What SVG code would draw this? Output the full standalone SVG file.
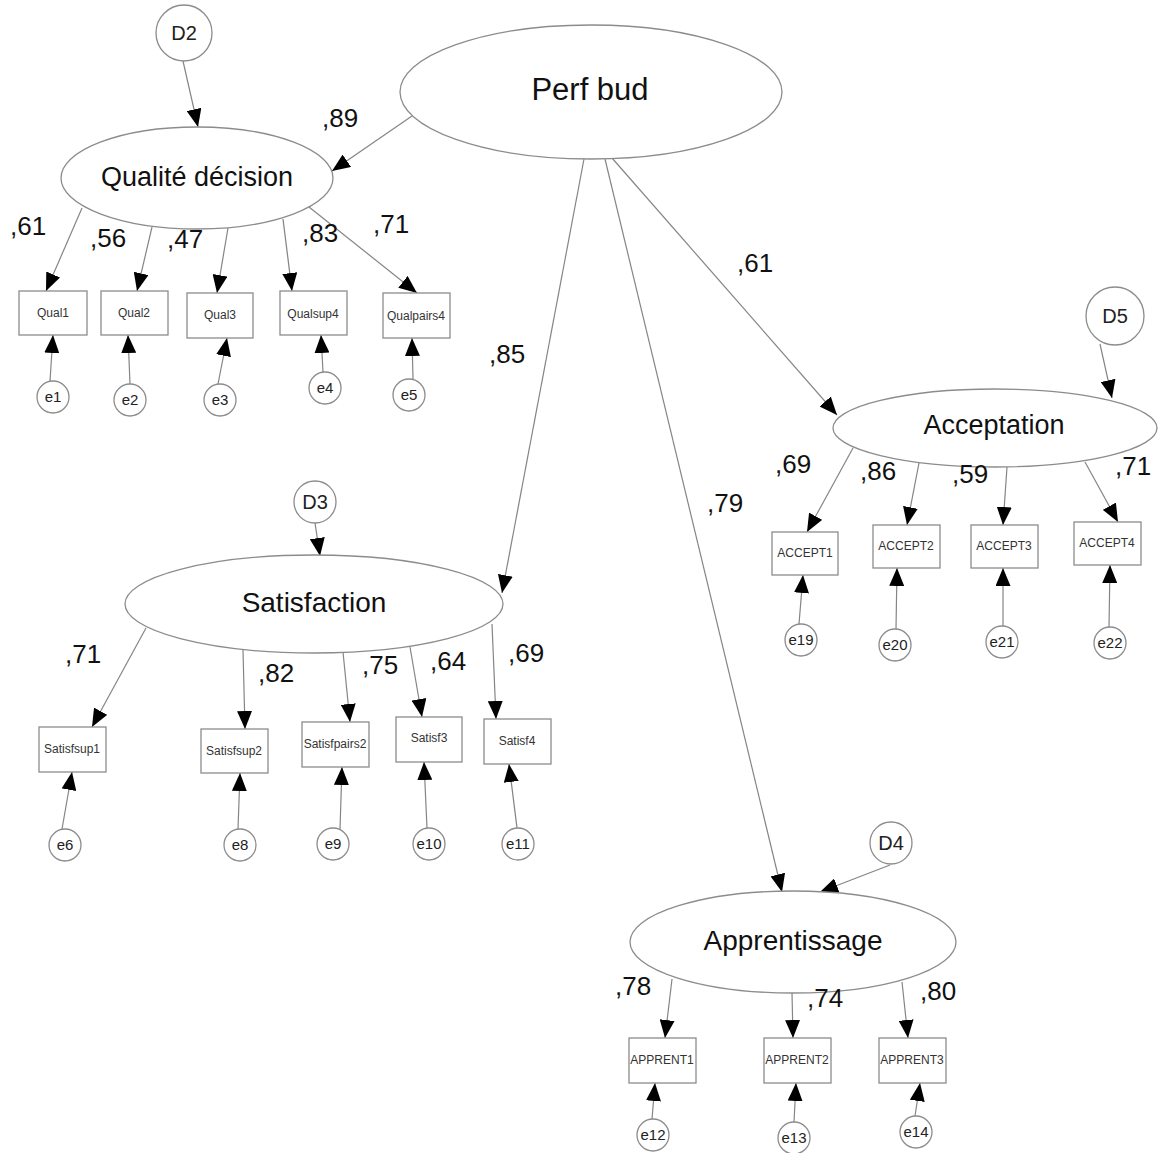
<svg xmlns="http://www.w3.org/2000/svg" width="1162" height="1153" viewBox="0 0 1162 1153">
<style>
text{font-family:"Liberation Sans",Arial,sans-serif;fill:#111}
.lat{fill:#fff;stroke:#8c8c8c;stroke-width:1.3}
.obs{fill:#fff;stroke:#8c8c8c;stroke-width:1.3}
.err{fill:#fff;stroke:#8c8c8c;stroke-width:1.3}
.big{text-anchor:middle}
.box{font-size:12px;text-anchor:middle;fill:#333}
.et{font-size:15px;text-anchor:middle;fill:#222}
.dt{font-size:20px;text-anchor:middle;fill:#222}
.w{font-size:26px}
#conn line{stroke:#858585;stroke-width:1.2;marker-end:url(#ah)}
</style>
<defs>
<marker id="ah" markerUnits="userSpaceOnUse" markerWidth="18" markerHeight="15" refX="18" refY="7.5" orient="auto" viewBox="0 0 18 15">
<path d="M0,0 L18,7.5 L0,15 z" fill="#000"/>
</marker>
</defs>
<rect width="1162" height="1153" fill="#fff"/>

<g id="conn">
<line x1="412" y1="116" x2="332" y2="171"/>
<line x1="183" y1="61" x2="198" y2="127"/>
<line x1="82" y1="208" x2="46" y2="291"/>
<line x1="152" y1="227" x2="137" y2="291"/>
<line x1="228" y1="228" x2="217" y2="293"/>
<line x1="283" y1="219" x2="292" y2="291"/>
<line x1="309" y1="207" x2="417" y2="293"/>
<line x1="50" y1="381" x2="53" y2="335"/>
<line x1="130" y1="384" x2="128" y2="335"/>
<line x1="218" y1="384" x2="227" y2="338"/>
<line x1="323" y1="372" x2="321" y2="335"/>
<line x1="413" y1="379" x2="412" y2="338"/>
<line x1="584" y1="159" x2="502" y2="593"/>
<line x1="605" y1="159" x2="782" y2="892"/>
<line x1="612" y1="158" x2="837" y2="415"/>
<line x1="1100" y1="344" x2="1112" y2="398"/>
<line x1="853" y1="448" x2="807" y2="532"/>
<line x1="919" y1="463" x2="907" y2="525"/>
<line x1="1007" y1="467" x2="1003" y2="525"/>
<line x1="1085" y1="462" x2="1118" y2="522"/>
<line x1="799" y1="624" x2="803" y2="575"/>
<line x1="896" y1="629" x2="897" y2="568"/>
<line x1="1003" y1="626" x2="1003" y2="568"/>
<line x1="1109" y1="627" x2="1110" y2="565"/>
<line x1="315" y1="523" x2="320" y2="556"/>
<line x1="146" y1="628" x2="92" y2="727"/>
<line x1="243" y1="650" x2="245" y2="729"/>
<line x1="343" y1="652" x2="350" y2="722"/>
<line x1="410" y1="647" x2="422" y2="717"/>
<line x1="492" y1="624" x2="496" y2="719"/>
<line x1="62" y1="829" x2="72" y2="772"/>
<line x1="238" y1="829" x2="240" y2="773"/>
<line x1="340" y1="829" x2="342" y2="767"/>
<line x1="427" y1="828" x2="424" y2="762"/>
<line x1="517" y1="828" x2="509" y2="764"/>
<line x1="890" y1="865" x2="820" y2="892"/>
<line x1="672" y1="979" x2="665" y2="1038"/>
<line x1="792" y1="993" x2="793" y2="1038"/>
<line x1="902" y1="982" x2="908" y2="1038"/>
<line x1="652" y1="1119" x2="655" y2="1083"/>
<line x1="794" y1="1122" x2="796" y2="1083"/>
<line x1="915" y1="1116" x2="920" y2="1083"/>
</g>

<g id="perfbud"><ellipse class="lat" cx="591" cy="92" rx="191" ry="67"/><text class="big" x="590" y="100" font-size="31">Perf bud</text></g>

<g id="qualite"><ellipse class="lat" cx="197" cy="178" rx="136" ry="51"/><text class="big" x="197" y="186" font-size="27">Qualité décision</text></g>
<g id="D2"><circle class="err" cx="184" cy="33" r="28"/><text class="dt" x="184" y="40">D2</text></g>
<g id="Qual1"><rect class="obs" x="19" y="291" width="68" height="44"/><text class="box" x="53" y="317">Qual1</text></g>
<g id="Qual2"><rect class="obs" x="101" y="291" width="67" height="44"/><text class="box" x="134" y="317">Qual2</text></g>
<g id="Qual3"><rect class="obs" x="187" y="293" width="66" height="45"/><text class="box" x="220" y="319">Qual3</text></g>
<g id="Qualsup4"><rect class="obs" x="280" y="291" width="67" height="44"/><text class="box" x="313" y="318" font-size="15.5" fill="#111">Qualsup4</text></g>
<g id="Qualpairs4"><rect class="obs" x="383" y="293" width="67" height="45"/><text class="box" x="416" y="320">Qualpairs4</text></g>
<g id="e1"><circle class="err" cx="53" cy="397" r="16"/><text class="et" x="53" y="402">e1</text></g>
<g id="e2"><circle class="err" cx="130" cy="400" r="16"/><text class="et" x="130" y="405">e2</text></g>
<g id="e3"><circle class="err" cx="220" cy="400" r="16"/><text class="et" x="220" y="405">e3</text></g>
<g id="e4"><circle class="err" cx="325" cy="388" r="16"/><text class="et" x="325" y="393">e4</text></g>
<g id="e5"><circle class="err" cx="409" cy="395" r="16"/><text class="et" x="409" y="400">e5</text></g>

<g id="acceptation"><ellipse class="lat" cx="995" cy="428" rx="162" ry="39"/><text class="big" x="994" y="434" font-size="27">Acceptation</text></g>
<g id="D5"><circle class="err" cx="1115" cy="316" r="29"/><text class="dt" x="1115" y="323">D5</text></g>
<g id="ACCEPT1"><rect class="obs" x="772" y="532" width="66" height="43"/><text class="box" x="805" y="557">ACCEPT1</text></g>
<g id="ACCEPT2"><rect class="obs" x="873" y="525" width="67" height="43"/><text class="box" x="906" y="550">ACCEPT2</text></g>
<g id="ACCEPT3"><rect class="obs" x="971" y="525" width="67" height="43"/><text class="box" x="1004" y="550">ACCEPT3</text></g>
<g id="ACCEPT4"><rect class="obs" x="1074" y="522" width="67" height="43"/><text class="box" x="1107" y="547">ACCEPT4</text></g>
<g id="e19"><circle class="err" cx="801" cy="640" r="16"/><text class="et" x="801" y="645">e19</text></g>
<g id="e20"><circle class="err" cx="895" cy="645" r="16"/><text class="et" x="895" y="650">e20</text></g>
<g id="e21"><circle class="err" cx="1002" cy="642" r="16"/><text class="et" x="1002" y="647">e21</text></g>
<g id="e22"><circle class="err" cx="1110" cy="643" r="16"/><text class="et" x="1110" y="648">e22</text></g>

<g id="satisfaction"><ellipse class="lat" cx="314" cy="604" rx="189" ry="49"/><text class="big" x="314" y="612" font-size="28">Satisfaction</text></g>
<g id="D3"><circle class="err" cx="315" cy="502" r="21"/><text class="dt" x="315" y="509">D3</text></g>
<g id="Satisfsup1"><rect class="obs" x="39" y="727" width="67" height="45"/><text class="box" x="72" y="753">Satisfsup1</text></g>
<g id="Satisfsup2"><rect class="obs" x="201" y="729" width="67" height="44"/><text class="box" x="234" y="755">Satisfsup2</text></g>
<g id="Satisfpairs2"><rect class="obs" x="302" y="722" width="67" height="45"/><text class="box" x="335" y="748">Satisfpairs2</text></g>
<g id="Satisf3"><rect class="obs" x="396" y="717" width="66" height="45"/><text class="box" x="429" y="742">Satisf3</text></g>
<g id="Satisf4"><rect class="obs" x="484" y="719" width="67" height="45"/><text class="box" x="517" y="745">Satisf4</text></g>
<g id="e6"><circle class="err" cx="65" cy="845" r="16"/><text class="et" x="65" y="850">e6</text></g>
<g id="e8"><circle class="err" cx="240" cy="845" r="16"/><text class="et" x="240" y="850">e8</text></g>
<g id="e9"><circle class="err" cx="333" cy="844" r="16"/><text class="et" x="333" y="849">e9</text></g>
<g id="e10"><circle class="err" cx="429" cy="844" r="16"/><text class="et" x="429" y="849">e10</text></g>
<g id="e11"><circle class="err" cx="518" cy="844" r="16"/><text class="et" x="518" y="849">e11</text></g>

<g id="apprentissage"><ellipse class="lat" cx="793" cy="942" rx="163" ry="51"/><text class="big" x="793" y="950" font-size="28">Apprentissage</text></g>
<g id="D4"><circle class="err" cx="891" cy="843" r="21"/><text class="dt" x="891" y="850">D4</text></g>
<g id="APPRENT1"><rect class="obs" x="629" y="1038" width="67" height="45"/><text class="box" x="662" y="1064">APPRENT1</text></g>
<g id="APPRENT2"><rect class="obs" x="764" y="1038" width="67" height="45"/><text class="box" x="797" y="1064">APPRENT2</text></g>
<g id="APPRENT3"><rect class="obs" x="879" y="1038" width="67" height="45"/><text class="box" x="912" y="1064">APPRENT3</text></g>
<g id="e12"><circle class="err" cx="653" cy="1135" r="16"/><text class="et" x="653" y="1140">e12</text></g>
<g id="e13"><circle class="err" cx="794" cy="1138" r="16"/><text class="et" x="794" y="1143">e13</text></g>
<g id="e14"><circle class="err" cx="916" cy="1132" r="16"/><text class="et" x="916" y="1137">e14</text></g>

<g id="weights">
<text class="w" x="322" y="127">,89</text>
<text class="w" x="10" y="235">,61</text>
<text class="w" x="90" y="247">,56</text>
<text class="w" x="167" y="248">,47</text>
<text class="w" x="302" y="242">,83</text>
<text class="w" x="373" y="233">,71</text>
<text class="w" x="737" y="272">,61</text>
<text class="w" x="489" y="363">,85</text>
<text class="w" x="707" y="512">,79</text>
<text class="w" x="775" y="473">,69</text>
<text class="w" x="860" y="480">,86</text>
<text class="w" x="952" y="483">,59</text>
<text class="w" x="1115" y="475">,71</text>
<text class="w" x="65" y="663">,71</text>
<text class="w" x="258" y="682">,82</text>
<text class="w" x="362" y="674">,75</text>
<text class="w" x="430" y="670">,64</text>
<text class="w" x="508" y="662">,69</text>
<text class="w" x="615" y="995">,78</text>
<text class="w" x="807" y="1007">,74</text>
<text class="w" x="920" y="1000">,80</text>
</g>
</svg>
